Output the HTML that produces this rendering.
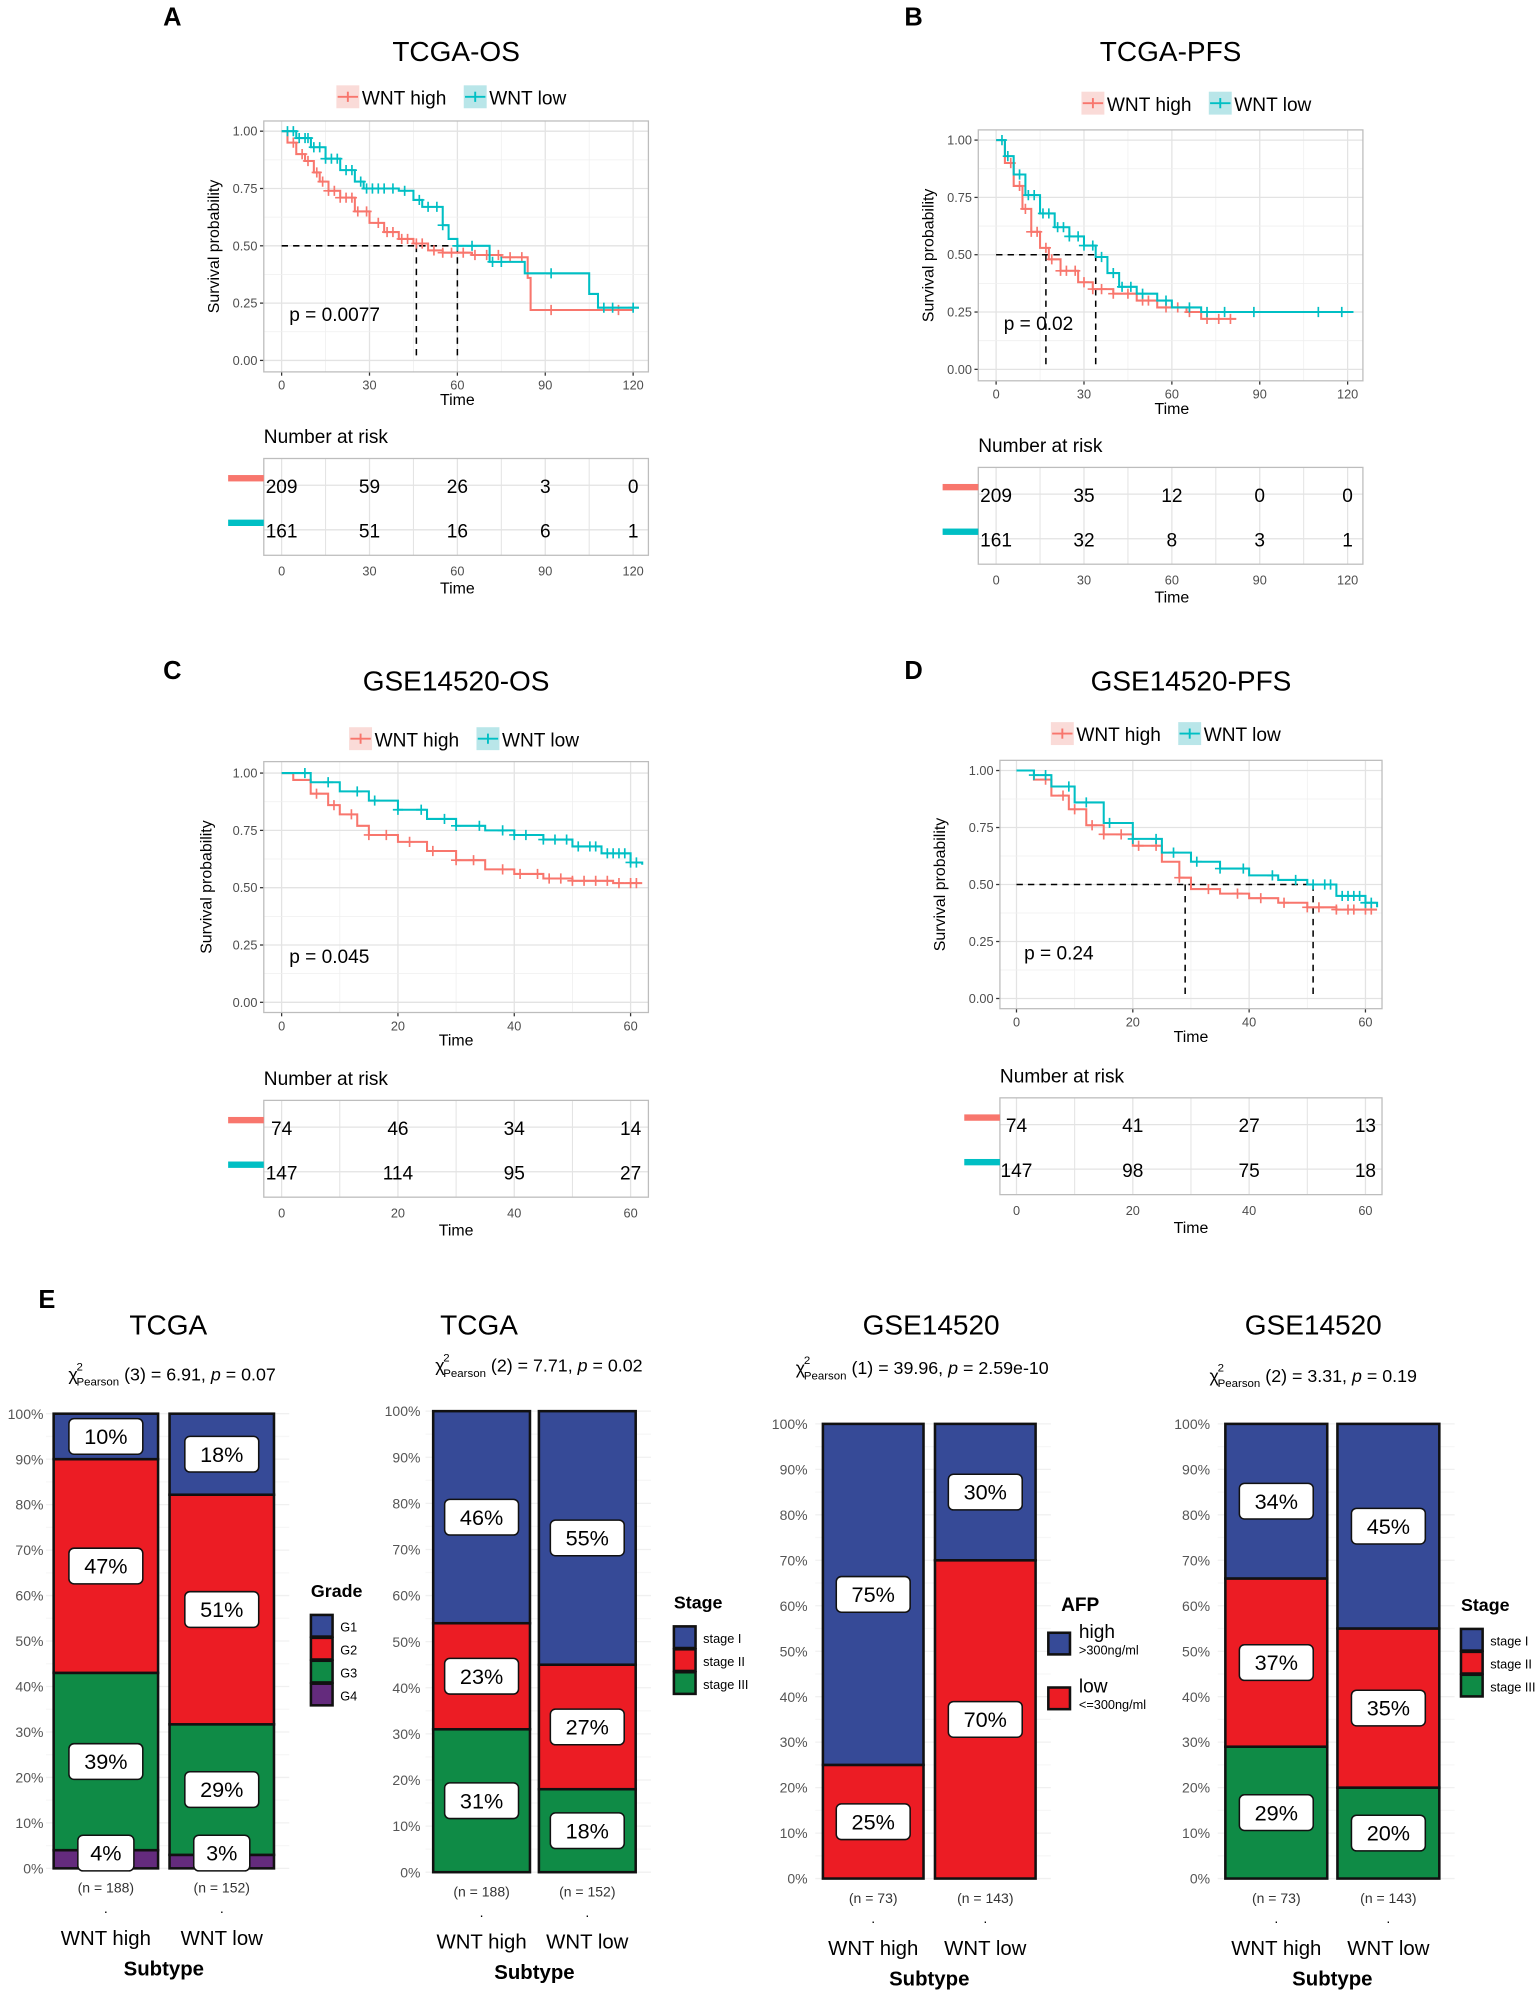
<!DOCTYPE html>
<html><head><meta charset="utf-8"><style>
html,body{margin:0;padding:0;background:#fff}
svg{display:block;font-family:"Liberation Sans",Arial,sans-serif}
</style></head><body>
<svg id="fig" width="1535" height="1997" viewBox="0 0 1205 1568" xmlns="http://www.w3.org/2000/svg"></svg>
<script>
// ---------- KM data ----------
const aHighT=[0,2,5,8,11,13,16,20,25,30,35,40,45,50,55,65,75,84,85,120];
const aHighS=[1,0.95,0.9,0.87,0.82,0.78,0.74,0.71,0.65,0.6,0.56,0.53,0.51,0.48,0.47,0.46,0.45,0.36,0.22,0.22];
const aLowT=[0,5,10,15,20,25,28,40,45,48,55,57,60,70,71,83,105,108,122];
const aLowS=[1,0.97,0.93,0.88,0.83,0.78,0.75,0.74,0.70,0.67,0.59,0.53,0.50,0.50,0.43,0.38,0.29,0.23,0.23];
const bHighT=[0,3,6,9,12,15,18,22,28,33,40,48,55,65,70,82];
const bHighS=[1,0.9,0.8,0.7,0.6,0.53,0.48,0.43,0.38,0.35,0.33,0.3,0.27,0.25,0.22,0.22];
const bLowT=[0,3,6,10,15,20,25,30,34,38,42,48,55,60,70,122];
const bLowS=[1,0.93,0.85,0.76,0.68,0.62,0.58,0.54,0.49,0.42,0.36,0.33,0.30,0.27,0.25,0.25];
const cHighT=[0,2,5,8,10,13,15,20,25,30,35,40,45,50,57,62];
const cHighS=[1,0.97,0.91,0.86,0.82,0.77,0.73,0.70,0.66,0.62,0.58,0.56,0.54,0.53,0.52,0.52];
const cLowT=[0,5,10,15,20,25,30,35,40,45,50,55,60,62];
const cLowS=[1,0.96,0.92,0.88,0.84,0.8,0.77,0.75,0.73,0.71,0.68,0.65,0.61,0.6];
const dHighT=[0,3,6,9,12,15,20,25,28,30,35,40,45,50,55,62];
const dHighS=[1,0.96,0.89,0.83,0.76,0.72,0.67,0.6,0.53,0.48,0.46,0.44,0.42,0.40,0.39,0.39];
const dLowT=[0,3,6,10,15,20,25,30,35,40,45,50,55,60,62];
const dLowS=[1,0.98,0.93,0.86,0.77,0.7,0.64,0.6,0.57,0.54,0.52,0.5,0.45,0.42,0.40];
const aCensHigh=[4,7,9,12,14,16,18,20,22,24,26,29,33,36,38,41,43,46,48,52,55,58,62,66,70,74,78,82,92,115];
const aCensLow=[2,4,6,8,9,11,13,15,17,19,22,24,27,29,31,33,35,38,42,47,50,53,55,60,65,72,75,92,110,113,120];
const bCensHigh=[5,8,10,12,14,17,19,22,24,27,30,33,36,40,45,50,52,58,62,66,72,76,80];
const bCensLow=[2,4,8,11,13,16,18,21,23,25,28,30,33,36,40,43,46,50,58,66,72,78,88,110,118];
const cCensHigh=[6,9,12,15,18,22,26,30,33,38,41,44,46,48,50,52,54,56,58,60,61];
const cCensLow=[4,8,13,16,20,24,28,30,34,38,40,42,45,47,49,51,53,54,56,57,58,59,60,61];
const dCensHigh=[5,8,10,13,15,18,21,24,28,33,38,42,46,50,52,55,57,58,60,61];
const dCensLow=[3,5,9,12,16,20,24,27,31,35,39,44,48,51,53,54,56,57,58,59,60,61];
const aMedians=[46,60], bMedians=[17,34], cMedians=[], dMedians=[29,51];
const aRiskHigh=[209,59,26,3,0], aRiskLow=[161,51,16,6,1];
const bRiskHigh=[209,35,12,0,0], bRiskLow=[161,32,8,3,1];
const cRiskHigh=[74,46,34,14], cRiskLow=[147,114,95,27];
const dRiskHigh=[74,41,27,13], dRiskLow=[147,98,75,18];
const ticksLong=[0,30,60,90,120], ticksShort=[0,20,40,60];
const yTicks=[0,0.25,0.5,0.75,1];
const pA="p = 0.0077", pB="p = 0.02", pC="p = 0.045", pD="p = 0.24";
// ---------- Bar data ----------
const e1Cats=["G4","G3","G2","G1"], e1High=[4,39,47,10], e1Low=[3,29,51,18];
const e2Cats=["stage III","stage II","stage I"], e2High=[31,23,46], e2Low=[18,27,55];
const e3Cats=["low","high"], e3High=[25,75], e3Low=[70,30];
const e4Cats=["stage III","stage II","stage I"], e4High=[29,37,34], e4Low=[20,35,45];
const pctTicks=[0,10,20,30,40,50,60,70,80,90,100];

const NS="http://www.w3.org/2000/svg";
const svg=document.getElementById('fig');
function el(tag,attrs,parent,txt){const e=document.createElementNS(NS,tag);for(const k in attrs)e.setAttribute(k,attrs[k]);if(txt!==undefined)e.textContent=txt;(parent||svg).appendChild(e);return e;}
const RED="#f8766d",CYAN="#00bfc4";

function km(c){
  const g=el('g',{});
  
  
  const xmax=c.ticks[c.ticks.length-1];
  const X=t=>c.x0+(t/xmax)*(c.x1-c.x0);
  const Y=v=>c.y0+(1-v)*(c.yz-c.y0);
  const L=c.L,R=c.R,T=c.T,B=c.B;
  el('text',{x:c.letterX,y:c.letterY,'font-size':20,'font-weight':'bold'},g,c.letter);
  const tt=el('text',{x:(L+R)/2,y:c.titleY,'font-size':22,'text-anchor':'middle'},g,c.title);
  
  const lg=el('g',{},g);
  [[RED,'#fadbd8','WNT high',c.legX],[CYAN,'#b9e6e9','WNT low',c.legX+100]].forEach(([col,bg,lab,lx])=>{
    el('rect',{x:lx,y:c.legY-10,width:18,height:18,fill:bg},lg);
    el('line',{x1:lx+1,x2:lx+17,y1:c.legY-1,y2:c.legY-1,stroke:col,'stroke-width':1.5},lg);
    el('line',{x1:lx+9,x2:lx+9,y1:c.legY-5,y2:c.legY+3,stroke:col,'stroke-width':1.5},lg);
    el('text',{x:lx+20,y:c.legY+5,'font-size':15},lg,lab);
  });
  el('rect',{x:L,y:T,width:R-L,height:B-T,fill:'#fff'},g);
  for(let i=0;i<c.ticks.length;i++){
    el('line',{x1:X(c.ticks[i]),x2:X(c.ticks[i]),y1:T,y2:B,stroke:'#e3e3e3','stroke-width':1},g);
    if(i<c.ticks.length-1){const m=(c.ticks[i]+c.ticks[i+1])/2;el('line',{x1:X(m),x2:X(m),y1:T,y2:B,stroke:'#efefef','stroke-width':0.6},g);}
  }
  yTicks.forEach((v,i)=>{
    el('line',{x1:L,x2:R,y1:Y(v),y2:Y(v),stroke:'#e3e3e3'},g);
    if(i<yTicks.length-1)el('line',{x1:L,x2:R,y1:Y(v+0.125),y2:Y(v+0.125),stroke:'#efefef','stroke-width':0.6},g);
    el('line',{x1:L-3,x2:L,y1:Y(v),y2:Y(v),stroke:'#333'},g);
    el('text',{x:L-5,y:Y(v)+3.5,'font-size':10,'text-anchor':'end',fill:'#4d4d4d'},g,v.toFixed(2));
  });
  c.ticks.forEach(t=>{el('line',{x1:X(t),x2:X(t),y1:B,y2:B+3,stroke:'#333'},g);
    el('text',{x:X(t),y:B+14,'font-size':10,'text-anchor':'middle',fill:'#4d4d4d'},g,t);});
  el('text',{x:X(xmax/2),y:B+26,'font-size':12.5,'text-anchor':'middle'},g,'Time');
  const yl=el('text',{x:0,y:0,'font-size':12.5,'text-anchor':'middle',transform:`translate(${c.ylX},${(T+B)/2}) rotate(-90)`},g,'Survival probability');
  
  c.med.forEach(m=>{
    el('line',{x1:X(m),x2:X(m),y1:Y(0.5),y2:Y(0),stroke:'#000','stroke-dasharray':'5,4','stroke-width':1.2},g);
  });
  if(c.med.length)el('line',{x1:X(0),x2:X(Math.max(...c.med)),y1:Y(0.5),y2:Y(0.5),stroke:'#000','stroke-dasharray':'5,4','stroke-width':1.2},g);
  [[c.hT,c.hS,c.hC,RED,'curve-wnt-high'],[c.lT,c.lS,c.lC,CYAN,'curve-wnt-low']].forEach(([ts,ss,cs,col,nm])=>{
    let d=`M${X(ts[0])},${Y(ss[0])}`;
    for(let i=1;i<ts.length;i++){d+=`H${X(ts[i])}V${Y(ss[i])}`;}
    const p=el('path',{d:d,fill:'none',stroke:col,'stroke-width':1.6},g);
    
    cs.forEach(t=>{let s=ss[0];for(let i=0;i<ts.length;i++){if(ts[i]<=t)s=ss[i];}
      el('path',{d:`M${X(t)-4},${Y(s)}h8M${X(t)},${Y(s)-4}v8`,stroke:col,'stroke-width':1.3},g);});
  });
  el('rect',{x:L,y:T,width:R-L,height:B-T,fill:'none',stroke:'#bdbdbd','stroke-width':1},g);
  el('text',{x:X(0)+6,y:Y(0.2)+5,'font-size':15},g,c.p);
  const rt=el('g',{},g);
  el('text',{x:L,y:c.rT-12,'font-size':15},rt,'Number at risk');
  const rB=c.rT+76;
  c.ticks.forEach((t,i)=>{el('line',{x1:X(t),x2:X(t),y1:c.rT,y2:rB,stroke:'#e3e3e3'},rt);
    if(i<c.ticks.length-1){const m=(c.ticks[i]+c.ticks[i+1])/2;el('line',{x1:X(m),x2:X(m),y1:c.rT,y2:rB,stroke:'#e3e3e3','stroke-width':0.8},rt);}
    el('text',{x:X(t),y:rB+16,'font-size':10,'text-anchor':'middle',fill:'#4d4d4d'},rt,t);});
  [c.rT+21,c.rT+56].forEach(y=>el('line',{x1:L,x2:R,y1:y,y2:y,stroke:'#e3e3e3'},rt));
  el('rect',{x:L,y:c.rT,width:R-L,height:76,fill:'none',stroke:'#bdbdbd'},rt);
  el('text',{x:X(xmax/2),y:rB+30,'font-size':12.5,'text-anchor':'middle'},rt,'Time');
  [[c.rH,RED,c.rT+21],[c.rL,CYAN,c.rT+56]].forEach(([arr,col,y])=>{
    el('rect',{x:L-28,y:y-8,width:28,height:5,fill:col},rt);
    arr.forEach((v,i)=>el('text',{x:X(c.ticks[i]),y:y+6,'font-size':15,'text-anchor':'middle'},rt,v));
  });
}
km({name:'km-tcga-os',letter:'A',letterX:128,letterY:20,title:'TCGA-OS',titleY:48,legX:264,legY:77,L:207,R:509,T:95,B:292,x0:221,x1:497,y0:103,yz:283,ylX:172,ticks:ticksLong,
  hT:aHighT,hS:aHighS,lT:aLowT,lS:aLowS,hC:aCensHigh,lC:aCensLow,med:aMedians,p:pA,rT:360,rH:aRiskHigh,rL:aRiskLow});
km({name:'km-tcga-pfs',letter:'B',letterX:710,letterY:20,title:'TCGA-PFS',titleY:48,legX:849,legY:82,L:768,R:1070,T:102,B:299,x0:782,x1:1058,y0:110,yz:290,ylX:733,ticks:ticksLong,
  hT:bHighT,hS:bHighS,lT:bLowT,lS:bLowS,hC:bCensHigh,lC:bCensLow,med:bMedians,p:pB,rT:367,rH:bRiskHigh,rL:bRiskLow});
km({name:'km-gse14520-os',letter:'C',letterX:128,letterY:533,title:'GSE14520-OS',titleY:542,legX:274,legY:581,L:207,R:509,T:598,B:795,x0:221,x1:495,y0:607,yz:787,ylX:166,ticks:ticksShort,
  hT:cHighT,hS:cHighS,lT:cLowT,lS:cLowS,hC:cCensHigh,lC:cCensLow,med:cMedians,p:pC,rT:864,rH:cRiskHigh,rL:cRiskLow});
km({name:'km-gse14520-pfs',letter:'D',letterX:710,letterY:533,title:'GSE14520-PFS',titleY:542,legX:825,legY:577,L:785,R:1085,T:597,B:792,x0:798,x1:1072,y0:605,yz:784,ylX:742,ticks:ticksShort,
  hT:dHighT,hS:dHighS,lT:dLowT,lS:dLowS,hC:dCensHigh,lC:dCensLow,med:dMedians,p:pD,rT:862,rH:dRiskHigh,rL:dRiskLow});

// ---------- bar charts ----------
const COL={G1:'#364a97',G2:'#ec1c24',G3:'#0f8b46',G4:'#642b7d','stage I':'#364a97','stage II':'#ec1c24','stage III':'#0f8b46',high:'#364a97',low:'#ec1c24'};
el('text',{x:30,y:1027,'font-size':20,'font-weight':'bold'},svg,'E');
function bars(c){
  const g=el('g',{});
  
  
  const Y=p=>c.y0-(p/100)*(c.y0-c.y100);
  el('text',{x:c.titleX,y:c.titleY,'font-size':22,'text-anchor':'middle'},g,c.title);
  const st=el('text',{x:c.subX,y:c.subY,'font-size':14,'text-anchor':'middle'},g);
  el('tspan',{},st,'χ');el('tspan',{'font-size':9,dy:-8,dx:-1},st,'2');el('tspan',{'font-size':9,dy:12,dx:-5},st,'Pearson');
  el('tspan',{dy:-4},st,' '+c.sub1);el('tspan',{'font-style':'italic'},st,'p');el('tspan',{},st,' = '+c.sub2);
  pctTicks.forEach(p=>{
    el('line',{x1:c.b1-6,x2:c.b2+c.w+12,y1:Y(p),y2:Y(p),stroke:'#f0f0f0'},g);
    if(p<100)el('line',{x1:c.b1-6,x2:c.b2+c.w+12,y1:Y(p+5),y2:Y(p+5),stroke:'#f7f7f7'},g);
    el('text',{x:c.yLabX,y:Y(p)+4,'font-size':11,'text-anchor':'end',fill:'#555'},g,p+'%');
  });
  [[c.high,c.b1,'WNT high',c.nH],[c.low,c.b2,'WNT low',c.nL]].forEach(([vals,bx,lab,n])=>{
    const tot=vals.reduce((a,b)=>a+b,0);let acc=0;
    const bg=el('g',{},g);
    const segs=[];
    vals.forEach((v,i)=>{const p0=acc/tot*100;acc+=v;const p1=acc/tot*100;
      el('rect',{x:bx,y:Y(p1),width:c.w,height:Y(p0)-Y(p1),fill:COL[c.cats[i]],stroke:'#111','stroke-width':2},bg);
      segs.push([(p0+p1)/2,v]);});
    segs.forEach(([m,v])=>{const cy=Math.min(Y(m),Y(0)-12);
      const wbox=v<10?44:58;
      el('rect',{x:bx+c.w/2-wbox/2,y:cy-14,width:wbox,height:28,rx:4,fill:'#fff',stroke:'#111','stroke-width':1.2},bg);
      el('text',{x:bx+c.w/2,y:cy+6,'font-size':17,'text-anchor':'middle'},bg,v+'%');});
    el('text',{x:bx+c.w/2,y:c.y0+19,'font-size':11,'text-anchor':'middle',fill:'#333'},g,'(n = '+n+')');
    el('text',{x:bx+c.w/2,y:c.y0+35,'font-size':11,'text-anchor':'middle'},g,'.');
    el('text',{x:bx+c.w/2,y:c.y0+60,'font-size':16,'text-anchor':'middle'},g,lab);
  });
  el('text',{x:(c.b1+c.b2+c.w)/2,y:c.y0+84,'font-size':16,'font-weight':'bold','text-anchor':'middle'},g,'Subtype');
  const lg=el('g',{},g);
  el('text',{x:c.legX,y:c.legY,'font-size':c.afp?15:14,'font-weight':'bold'},lg,c.legTitle);
  const order=c.cats.slice().reverse();
  order.forEach((k,i)=>{
    if(c.afp){const y=c.legY+17+i*43;
      el('rect',{x:c.legX-10,y:y,width:17,height:17,fill:COL[k],stroke:'#111','stroke-width':2},lg);
      el('text',{x:c.legX+14,y:y+4,'font-size':15},lg,k);
      el('text',{x:c.legX+14,y:y+17,'font-size':10},lg,k==='high'?'>300ng/ml':'<=300ng/ml');
    }else{const y=c.legY+14+i*18;
      el('rect',{x:c.legX,y:y,width:17,height:17,fill:COL[k],stroke:'#111','stroke-width':2},lg);
      el('text',{x:c.legX+23,y:y+13,'font-size':10},lg,k);}
  });
}
bars({name:'bar-tcga-grade',title:'TCGA',titleX:132,titleY:1048,subX:135,subY:1084,sub1:'(3) = 6.91, ',sub2:'0.07',y0:1467,y100:1110,b1:42,b2:133,w:82,yLabX:34,
  cats:e1Cats,high:e1High,low:e1Low,nH:188,nL:152,legTitle:'Grade',legX:244,legY:1254});
bars({name:'bar-tcga-stage',title:'TCGA',titleX:376,titleY:1048,subX:423,subY:1077,sub1:'(2) = 7.71, ',sub2:'0.02',y0:1470,y100:1108,b1:340,b2:423,w:76,yLabX:330,
  cats:e2Cats,high:e2High,low:e2Low,nH:188,nL:152,legTitle:'Stage',legX:529,legY:1263});
bars({name:'bar-gse-afp',title:'GSE14520',titleX:731,titleY:1048,subX:724,subY:1079,sub1:'(1) = 39.96, ',sub2:'2.59e-10',y0:1475,y100:1118,b1:646,b2:734,w:79,yLabX:634,
  cats:e3Cats,high:e3High,low:e3Low,nH:73,nL:143,legTitle:'AFP',legX:833,legY:1265,afp:true});
bars({name:'bar-gse-stage',title:'GSE14520',titleX:1031,titleY:1048,subX:1031,subY:1085,sub1:'(2) = 3.31, ',sub2:'0.19',y0:1475,y100:1118,b1:962,b2:1050,w:80,yLabX:950,
  cats:e4Cats,high:e4High,low:e4Low,nH:73,nL:143,legTitle:'Stage',legX:1147,legY:1265});
</script>
</body></html>
